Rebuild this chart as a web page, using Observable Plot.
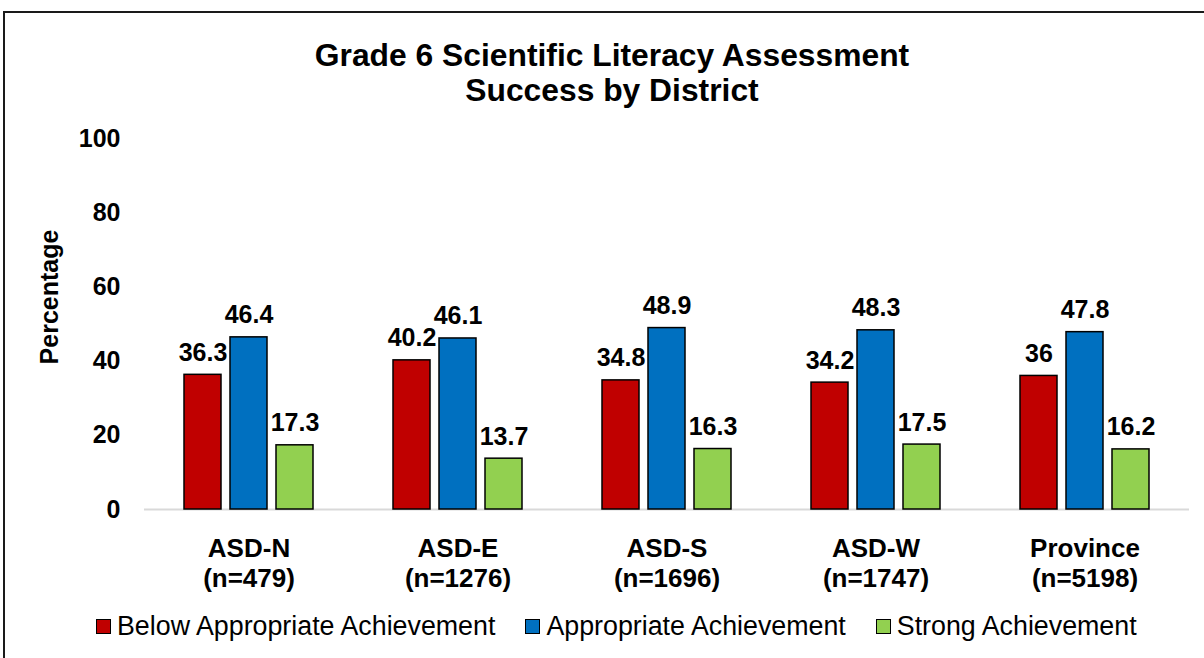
<!DOCTYPE html>
<html>
<head>
<meta charset="utf-8">
<script src="https://cdn.jsdelivr.net/npm/d3@7"></script>
<script src="https://cdn.jsdelivr.net/npm/@observablehq/plot@0.6"></script>
<style>
  html, body { margin: 0; padding: 0; background: #fff; }
  #wrap { position: relative; width: 1204px; height: 658px; overflow: hidden; font-family: "Liberation Sans", Arial, sans-serif; }
  #frame { position: absolute; left: 3px; top: 11px; width: 1210px; height: 660px; border: 2px solid #1a1a1a; box-sizing: border-box; }
  #title { position: absolute; left: 0; width: 1224px; top: 38px; text-align: center; font-weight: bold; font-size: 31.8px; line-height: 35px; color: #000; }
  #ylabel { position: absolute; left: 49px; top: 297px; transform: translate(-50%, -50%) rotate(-90deg); font-weight: bold; font-size: 25px; white-space: nowrap; color: #000; }
  #chart { position: absolute; left: 0; top: 110px; }
  #legend { position: absolute; left: 96px; top: 611px; display: flex; align-items: center; font-size: 26.8px; color: #000; white-space: nowrap; }
  .item { display: flex; align-items: center; margin-right: 30px; }
  .sw { width: 15px; height: 15px; box-sizing: border-box; border: 1.5px solid #000; margin-right: 6px; }
</style>
</head>
<body>
<div id="wrap">
  <div id="frame"></div>
  <div id="title">Grade 6 Scientific Literacy Assessment<br>Success by District</div>
  <div id="ylabel">Percentage</div>
  <div id="chart"></div>
  <div id="legend"></div>
</div>
<script>
const districts = ["ASD-N", "ASD-E", "ASD-S", "ASD-W", "Province"];
const districtN = ["479", "1276", "1696", "1747", "5198"];
const series = ["Below Appropriate Achievement", "Appropriate Achievement", "Strong Achievement"];
const colors = ["#C00000", "#0070C0", "#92D050"];
const below = [36.3, 40.2, 34.8, 34.2, 36];
const appropriate = [46.4, 46.1, 48.9, 48.3, 47.8];
const strong = [17.3, 13.7, 16.3, 17.5, 16.2];
const yTicks = [0, 20, 40, 60, 80, 100];

const seriesValues = [below, appropriate, strong];
const data = [];
districts.forEach((d, i) => {
  series.forEach((s, j) => {
    data.push({district: d, series: s, value: seriesValues[j][i]});
  });
});
const labelOf = new Map(districts.map((d, i) => [d, `${d}\n(n=${districtN[i]})`]));

const chart = Plot.plot({
  width: 1204,
  height: 500,
  marginTop: 28,
  marginBottom: 101,
  marginLeft: 143,
  marginRight: 15,
  style: {fontFamily: "'Liberation Sans', Arial, sans-serif", color: "#000", background: "transparent"},
  fx: {domain: districts, padding: 0},
  x: {domain: series, paddingInner: 0.2, paddingOuter: 0.85, axis: null},
  y: {domain: [0, 100]},
  color: {domain: series, range: colors},
  marks: [
    Plot.axisY({ticks: yTicks, tickSize: 0, tickPadding: 24, fontSize: 25, fontWeight: "bold", label: null}),
    Plot.axisFx({anchor: "bottom", tickSize: 0, tickPadding: 26, fontSize: 26, fontWeight: "bold", label: null, lineHeight: 1.15, tickFormat: d => labelOf.get(d)}),
    Plot.ruleY([0], {stroke: "#d9d9d9", strokeWidth: 2}),
    Plot.barY(data, {fx: "district", x: "series", y: "value", fill: "series", stroke: "#000", strokeWidth: 1.5}),
    Plot.text(data, {fx: "district", x: "series", y: "value", text: d => String(d.value), lineAnchor: "bottom", dy: -14, fontSize: 25, fontWeight: "bold", fill: "#000"})
  ]
});
document.getElementById("chart").appendChild(chart);

const legend = document.getElementById("legend");
series.forEach((s, j) => {
  const item = document.createElement("div");
  item.className = "item";
  const sw = document.createElement("div");
  sw.className = "sw";
  sw.style.background = colors[j];
  const t = document.createElement("span");
  t.textContent = s;
  item.appendChild(sw);
  item.appendChild(t);
  legend.appendChild(item);
});
</script>
</body>
</html>
